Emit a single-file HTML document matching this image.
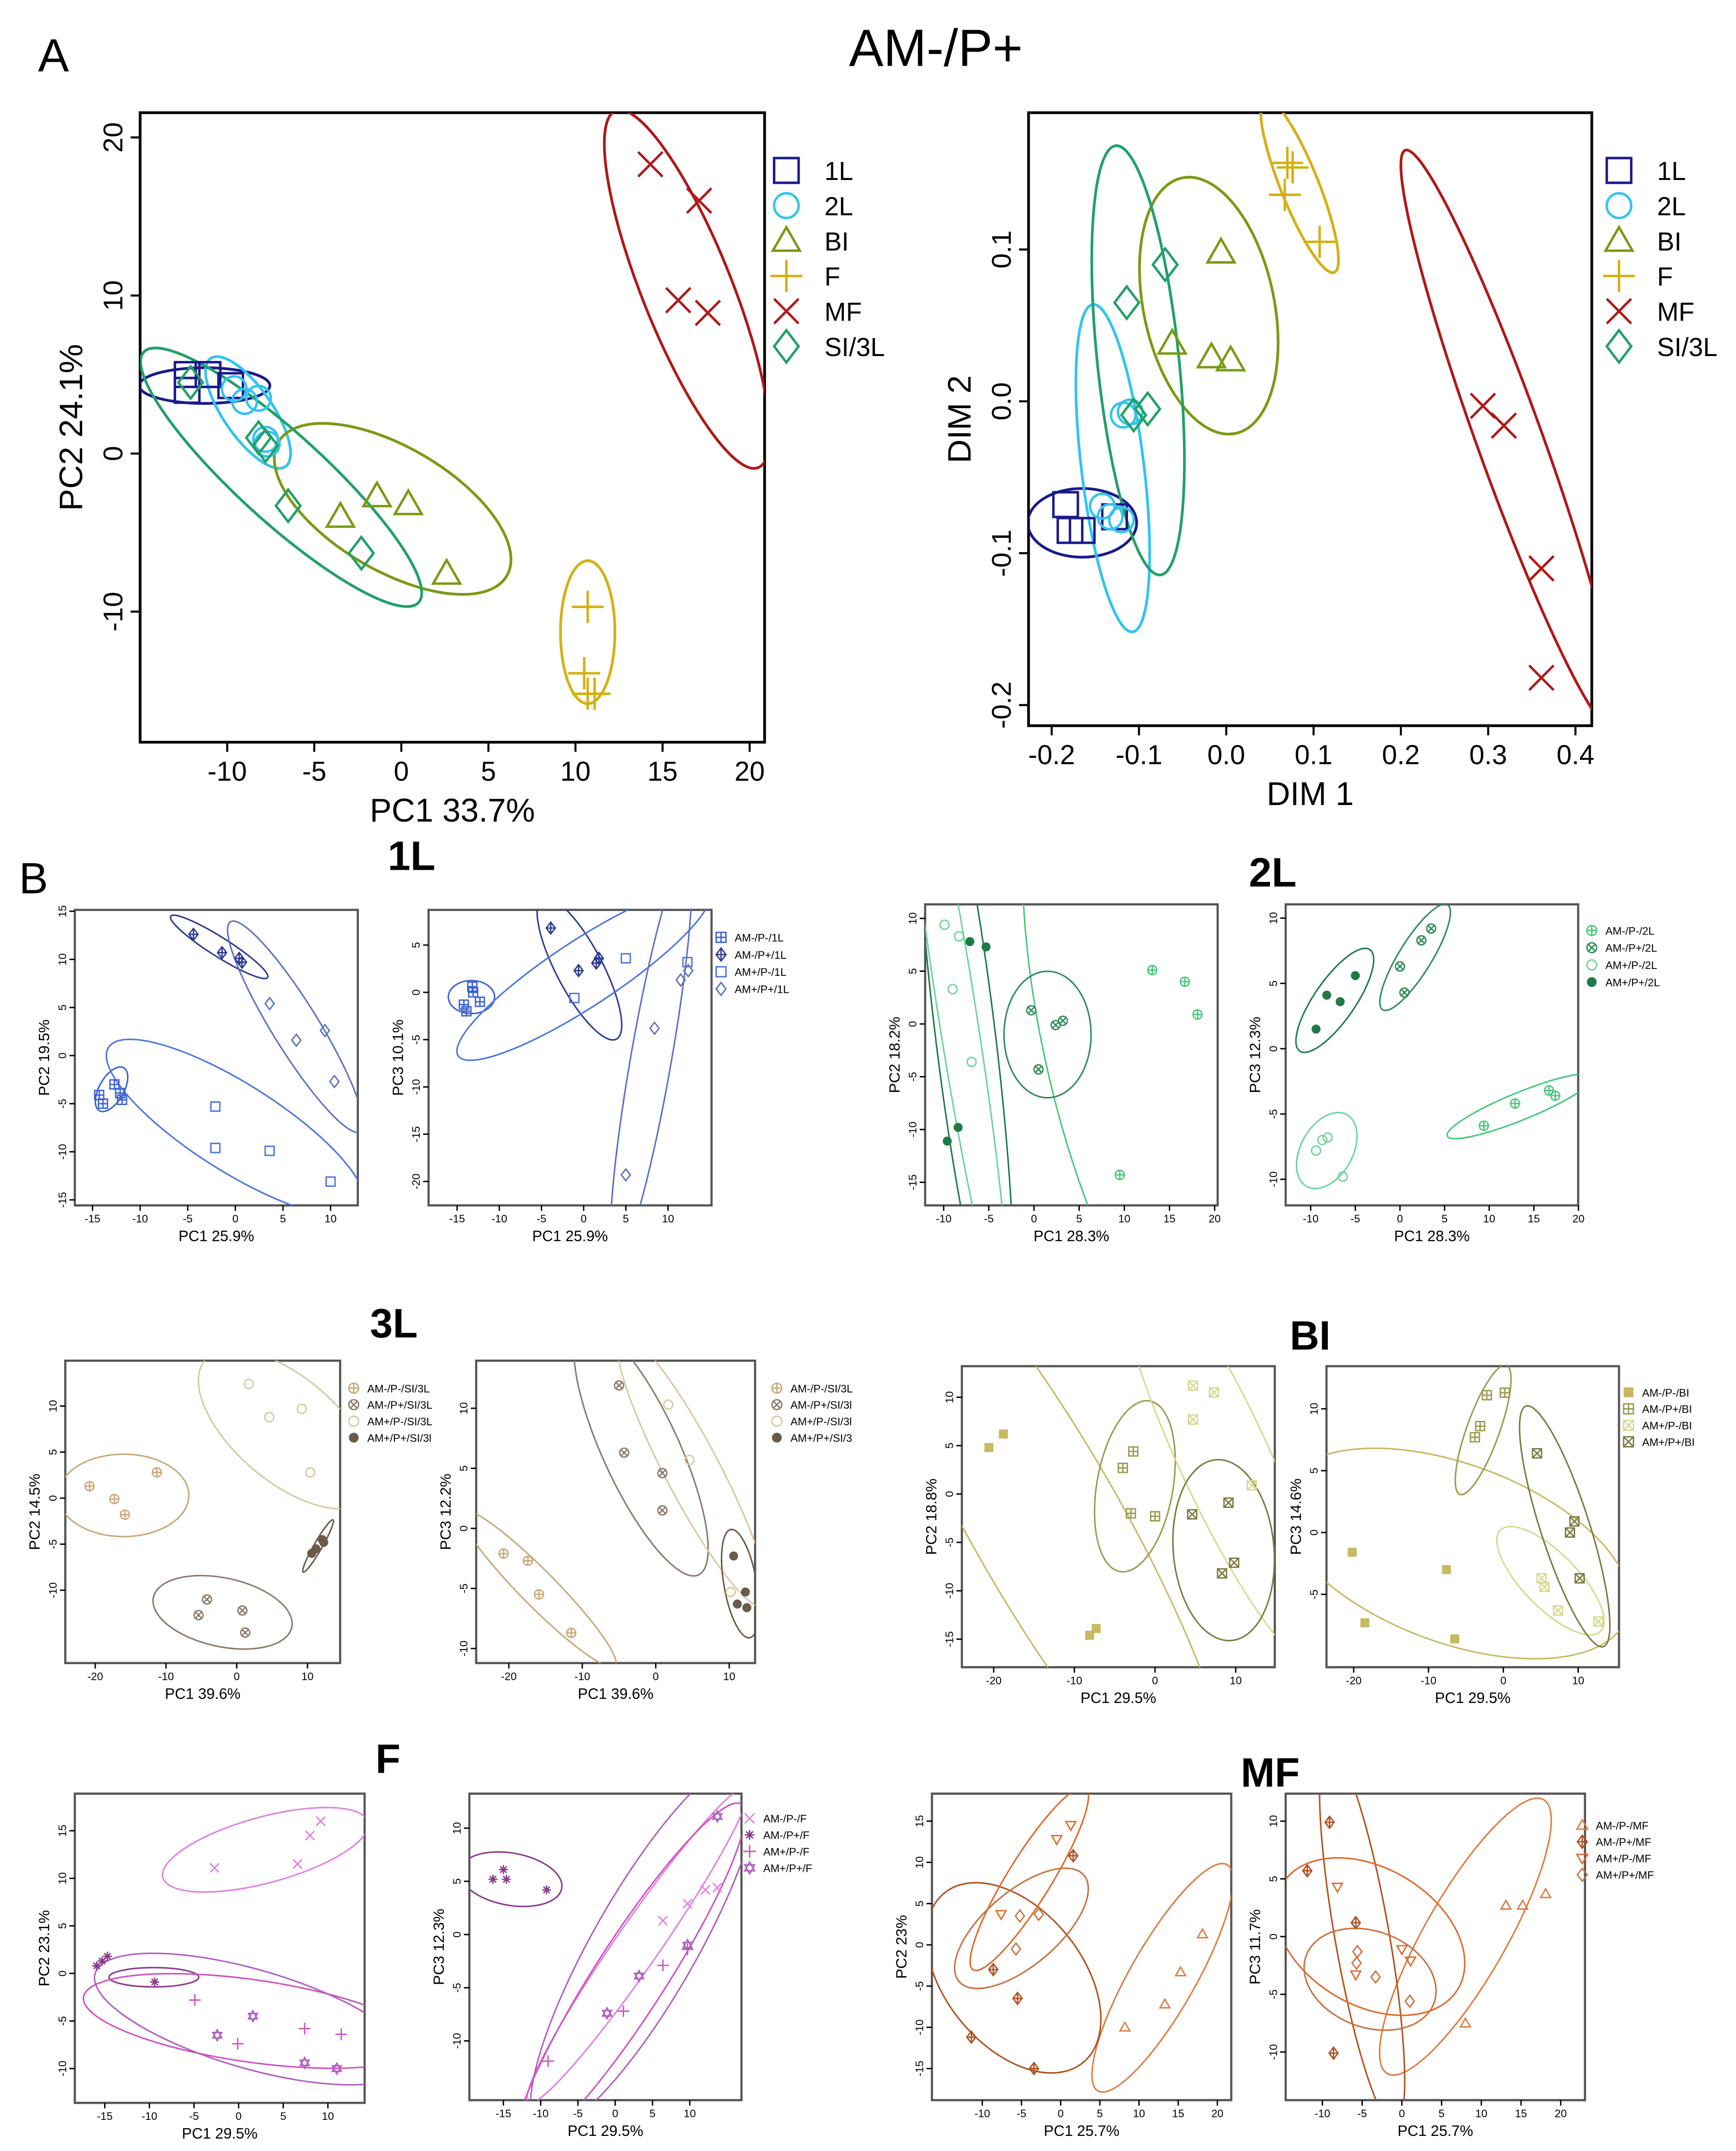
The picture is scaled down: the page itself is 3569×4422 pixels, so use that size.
<!DOCTYPE html>
<html><head><meta charset="utf-8"><style>
html,body{margin:0;padding:0;background:#fff;}
svg{display:block;}
text{font-family:"Liberation Sans",Arial,sans-serif;}
</style></head><body>
<svg id="fig" xmlns="http://www.w3.org/2000/svg" width="3569" height="4422" viewBox="0 0 1276 1565" preserveAspectRatio="none">
<rect width="1276" height="1565" fill="#fff"/>
<text x="28" y="52" font-size="34">A</text>
<text x="624" y="48" font-size="38">AM-/P+</text>
<text x="14" y="650" font-size="32">B</text>
<text x="285" y="633" font-size="30" font-weight="bold">1L</text>
<text x="918" y="645" font-size="30" font-weight="bold">2L</text>
<text x="272" y="973" font-size="30" font-weight="bold">3L</text>
<text x="948" y="982" font-size="30" font-weight="bold">BI</text>
<text x="276" y="1290" font-size="30" font-weight="bold">F</text>
<text x="912" y="1300" font-size="30" font-weight="bold">MF</text>
</svg>
<script>
// ===== DATA =====
const A1_tick_x=[-10,-5,0,5,10,15,20];
const A1_tick_y=[-10,0,10,20];
const A1_1L=[[-12.3,5],[-12.3,4],[-11.1,5],[-9.8,4.3]];
const A1_2L=[[-9.6,4.1],[-9,3.3],[-8.2,3.5],[-7.8,0.9],[-7.7,0.6]];
const A1_BI=[[-3.5,-4],[-1.4,-2.7],[0.4,-3.2],[2.6,-7.6]];
const A1_F=[[10.7,-9.7],[10.5,-13.9],[10.7,-15.2],[11.1,-15.2]];
const A1_MF=[[14.3,18.3],[17.1,16],[15.9,9.7],[17.6,8.9]];
const A1_SI=[[-12.1,4.5],[-8.2,1],[-7.8,0.5],[-6.5,-3.3],[-2.3,-6.3]];
const A2_tick_x=[-0.2,-0.1,0.0,0.1,0.2,0.3,0.4];
const A2_tick_y=[-0.2,-0.1,0.0,0.1];
const A2_1L=[[-0.184,-0.068],[-0.179,-0.085],[-0.165,-0.085],[-0.128,-0.076]];
const A2_2L=[[-0.142,-0.069],[-0.133,-0.076],[-0.118,-0.009],[-0.11,-0.007],[-0.12,-0.078]];
const A2_BI=[[-0.006,0.098],[-0.062,0.038],[-0.017,0.029],[0.005,0.027]];
const A2_F=[[0.07,0.157],[0.076,0.154],[0.067,0.136],[0.107,0.105]];
const A2_MF=[[0.294,-0.003],[0.318,-0.016],[0.361,-0.11],[0.361,-0.182]];
const A2_SI=[[-0.114,0.065],[-0.07,0.09],[-0.106,-0.009],[-0.09,-0.005]];
const L1a_s1=[[-14.3,-4.1],[-13.9,-5],[-12.7,-3],[-12.1,-3.9],[-11.9,-4.6]];
const L1a_s2=[[-4.4,12.6],[-1.4,10.7],[0.4,10.1],[0.7,9.7]];
const L1a_s3=[[-2.1,-5.3],[-2.1,-9.6],[3.6,-9.9],[10,-13.1]];
const L1a_s4=[[3.6,5.4],[6.4,1.6],[9.4,2.6],[10.4,-2.7]];
const L1b_s1=[[-14.2,-1.3],[-13.9,-2],[-13.1,0],[-12.3,-1],[-13.2,0.6]];
const L1b_s2=[[-3.9,6.8],[-0.6,2.3],[1.5,3.1],[1.8,3.6]];
const L1b_s3=[[-1.1,-0.6],[5,3.6],[12.3,3.2]];
const L1b_s4=[[5,-19.3],[8.4,-3.8],[11.5,1.3],[12.4,2.3]];
const L2a_s1=[[13.1,5.1],[16.7,4],[18.1,0.9],[9.5,-14.3]];
const L2a_s2=[[-0.3,1.3],[2.4,-0.1],[3.2,0.3],[0.5,-4.3]];
const L2a_s3=[[-9.9,9.4],[-8.3,8.3],[-9,3.3],[-6.9,-3.6]];
const L2a_s4=[[-7.1,7.8],[-5.3,7.3],[-9.6,-11.1],[-8.4,-9.8]];
const L2b_s1=[[9.4,-5.9],[12.9,-4.2],[16.7,-3.2],[17.4,-3.6]];
const L2b_s2=[[0,6.3],[0.5,4.3],[2.4,8.3],[3.5,9.2]];
const L2b_s3=[[-9.4,-7.8],[-8.7,-7],[-8.1,-6.8],[-6.4,-9.8]];
const L2b_s4=[[-9.4,1.5],[-8.2,4.1],[-6.7,3.6],[-5,5.6]];
const L3a_s1=[[-20.8,1.3],[-17.3,-0.1],[-15.8,-1.8],[-11.3,2.8]];
const L3a_s2=[[-5.4,-12.7],[-4.2,-11],[0.8,-12.2],[1.2,-14.6]];
const L3a_s3=[[1.7,12.4],[4.6,8.8],[9.2,9.7],[10.4,2.8]];
const L3a_s4=[[10.6,-6],[11.2,-5.5],[12.1,-4.5],[12.3,-4.8]];
const L3b_s1=[[-20.7,-2.1],[-17.4,-2.7],[-15.9,-5.5],[-11.5,-8.7]];
const L3b_s2=[[-5,11.9],[-4.3,6.3],[0.9,4.6],[0.9,1.5]];
const L3b_s3=[[1.7,10.3],[4.6,5.7],[10.2,-5.3]];
const L3b_s4=[[10.6,-2.3],[11.1,-6.3],[12.2,-5.3],[12.4,-6.6]];
const BIa_s1=[[-20.6,4.8],[-18.8,6.2],[-8.1,-14.6],[-7.3,-13.9]];
const BIa_s2=[[-4,2.7],[-2.7,4.4],[-3,-2],[0,-2.3]];
const BIa_s3=[[4.7,11.2],[4.7,7.7],[7.3,10.5],[12,0.9]];
const BIa_s4=[[4.6,-2.1],[9.1,-0.9],[9.8,-7.1],[8.3,-8.2]];
const BIb_s1=[[-20.2,-1.6],[-18.5,-7.3],[-7.6,-3],[-6.5,-8.6]];
const BIb_s2=[[-3.8,7.7],[-3.1,8.6],[-2.2,11.1],[0.2,11.3]];
const BIb_s3=[[5.1,-3.7],[5.5,-4.4],[7.3,-6.3],[12.7,-7.2]];
const BIb_s4=[[4.5,6.4],[8.9,0],[9.5,0.9],[10.2,-3.7]];
const Fa_s1=[[-2.7,11.1],[6.6,11.5],[8,14.5],[9.2,16]];
const Fa_s2=[[-15.9,0.8],[-15.3,1.3],[-14.7,1.8],[-9.4,-0.9]];
const Fa_s3=[[-4.9,-2.8],[-0.1,-7.4],[7.4,-5.8],[11.5,-6.4]];
const Fa_s4=[[-2.4,-6.5],[1.6,-4.5],[7.4,-9.4],[11,-10]];
const Fb_s1=[[6.4,1.3],[9.7,2.9],[12.1,4.2],[13.7,4.4]];
const Fb_s2=[[-16.4,5.2],[-15,6.1],[-14.6,5.2],[-9.2,4.2]];
const Fb_s3=[[-9,-11.9],[1.1,-7.2],[6.4,-2.9],[9.7,-1.4]];
const Fb_s4=[[-1.1,-7.4],[3.2,-3.9],[9.7,-1],[13.7,11.1]];
const MFa_s1=[[8.2,-10],[13.3,-7.2],[15.3,-3.3],[18.1,1.3]];
const MFa_s2=[[-11.4,-11.2],[-8.6,-3],[-5.5,-6.5],[-3.4,-15],[1.6,10.8]];
const MFa_s3=[[-7.6,3.7],[-0.5,12.8],[1.3,14.5]];
const MFa_s4=[[-5.2,3.5],[-5.7,-0.5],[-2.8,3.7]];
const MFb_s1=[[8,-7.5],[13.1,2.7],[15.2,2.7],[18.1,3.7]];
const MFb_s2=[[-11.9,5.7],[-9.1,9.9],[-5.8,1.2],[-8.6,-10.1]];
const MFb_s3=[[-8.1,4.3],[-5.8,-3.3],[0,-1.1],[1.1,-2.1]];
const MFb_s4=[[-5.7,-2.3],[-3.3,-3.5],[-5.6,-1.3],[1,-5.6]];

// ===== DRAWING =====
const NS="http://www.w3.org/2000/svg";
const svg=document.getElementById('fig');
function el(tag,attrs,parent){const e=document.createElementNS(NS,tag);for(const k in attrs)e.setAttribute(k,attrs[k]);(parent||svg).appendChild(e);return e;}
let clipN=0;
function marker(g,type,x,y,r,c,sw){
  const a={fill:'none',stroke:c,'stroke-width':sw};
  const P=(d)=>el('path',Object.assign({d:d},a),g);
  if(type==='sq'||type==='sqp'||type==='sqx'){P(`M${x-r} ${y-r}h${2*r}v${2*r}h${-2*r}z`);
    if(type==='sqp')P(`M${x-r} ${y}h${2*r}M${x} ${y-r}v${2*r}`);
    if(type==='sqx')P(`M${x-r} ${y-r}l${2*r} ${2*r}M${x+r} ${y-r}l${-2*r} ${2*r}`);}
  else if(type==='fsq'){el('rect',{x:x-r,y:y-r,width:2*r,height:2*r,fill:c},g);}
  else if(type==='ci'||type==='cip'||type==='cix'){el('circle',Object.assign({cx:x,cy:y,r:r},a),g);
    if(type==='cip')P(`M${x-r} ${y}h${2*r}M${x} ${y-r}v${2*r}`);
    if(type==='cix'){const q=r*0.7;P(`M${x-q} ${y-q}l${2*q} ${2*q}M${x+q} ${y-q}l${-2*q} ${2*q}`);}}
  else if(type==='fci'){el('circle',{cx:x,cy:y,r:r,fill:c},g);}
  else if(type==='tri'){P(`M${x} ${y-r*1.1}L${x+r*1.1} ${y+r*0.8}L${x-r*1.1} ${y+r*0.8}z`);}
  else if(type==='trd'){P(`M${x} ${y+r*1.1}L${x+r*1.1} ${y-r*0.8}L${x-r*1.1} ${y-r*0.8}z`);}
  else if(type==='pl'){P(`M${x-r*1.3} ${y}h${2.6*r}M${x} ${y-r*1.3}v${2.6*r}`);}
  else if(type==='x'){P(`M${x-r} ${y-r}l${2*r} ${2*r}M${x+r} ${y-r}l${-2*r} ${2*r}`);}
  else if(type==='di'||type==='dip'){P(`M${x} ${y-r*1.3}L${x+r} ${y}L${x} ${y+r*1.3}L${x-r} ${y}z`);
    if(type==='dip')P(`M${x-r} ${y}h${2*r}M${x} ${y-r*1.3}v${2.6*r}`);}
  else if(type==='ast'){P(`M${x-r} ${y}h${2*r}M${x} ${y-r}v${2*r}M${x-r*.7} ${y-r*.7}l${1.4*r} ${1.4*r}M${x+r*.7} ${y-r*.7}l${-1.4*r} ${1.4*r}`);}
  else if(type==='star'){P(`M${x} ${y-r*1.2}L${x+r} ${y+r*.6}L${x-r} ${y+r*.6}z M${x} ${y+r*1.2}L${x+r} ${y-r*.6}L${x-r} ${y-r*.6}z`);}
}
function fmt(v){return (Math.abs(v)<1e-9)?'0':String(v);}
function panel(c){
  const [x0,y0,x1,y1]=c.box;
  const sx=v=>c.xm[1]+(v-c.xm[0])*(c.xm[3]-c.xm[1])/(c.xm[2]-c.xm[0]);
  const sy=v=>c.ym[1]+(v-c.ym[0])*(c.ym[3]-c.ym[1])/(c.ym[2]-c.ym[0]);
  const g=el('g',{});
  
  
  const id='clip'+(clipN++);
  const cp=el('clipPath',{id:id},g);el('rect',{x:x0,y:y0,width:x1-x0,height:y1-y0},cp);
  const frame=el('rect',{x:x0,y:y0,width:x1-x0,height:y1-y0,fill:'none',stroke:c.big?'#000':'#555','stroke-width':c.big?2:1.6},g);
  
  
  const tl=c.big?7:4, fs=c.big?20:8;
  c.xt.forEach(v=>{const X=sx(v);el('line',{x1:X,y1:y1,x2:X,y2:y1+tl,stroke:'#000','stroke-width':c.big?1.5:1},g);
    const t=el('text',{x:X,y:y1+tl+fs*1.05,'font-size':fs,'text-anchor':'middle'},g);t.textContent=c.dec?v.toFixed(1):fmt(v);
    
    });
  c.yt.forEach(v=>{const Y=sy(v);el('line',{x1:x0,y1:Y,x2:x0-tl,y2:Y,stroke:'#000','stroke-width':c.big?1.5:1},g);
    const tx=x0-tl-fs*0.3;const t=el('text',{x:tx,y:Y,'font-size':fs,'text-anchor':'middle',transform:`rotate(-90 ${tx} ${Y})`},g);t.textContent=c.dec?v.toFixed(1):fmt(v);
    
    });
  const lf=c.big?24:11;
  const xl=el('text',{x:(x0+x1)/2,y:y1+tl+fs*1.1+lf*1.2,'font-size':lf,'text-anchor':'middle'},g);xl.textContent=c.xl;
  
  
  const yx=x0-tl-fs*1.3-lf*0.4, yy=(y0+y1)/2;
  const yl=el('text',{x:yx,y:yy,'font-size':lf,'text-anchor':'middle',transform:`rotate(-90 ${yx} ${yy})`},g);yl.textContent=c.yl;
  
  
  const inner=el('g',{'clip-path':`url(#${id})`},g);
  const sw=c.big?1.8:1;
  c.series.forEach(s=>{
    if(s.ell){const [cx,cy,rx,ry,rot]=s.ell;const e=el('ellipse',{cx:0,cy:0,rx:rx,ry:ry,fill:'none',stroke:s.ec||s.c,'stroke-width':c.big?2:1.1,transform:`translate(${sx(cx)} ${sy(cy)}) rotate(${rot})`},inner);
      
      }
  });
  c.series.forEach(s=>{
    s.pts.forEach(p=>{const mg=el('g',{},inner);
      
      
      marker(mg,s.m,sx(p[0]),sy(p[1]),c.big?9:3.3,s.c,sw);});
  });
  const L=c.leg;
  const lg=el('g',{},g);
  
  
  c.series.forEach((s,i)=>{const Y=L[1]+i*L[2];
    const eg=el('g',{},lg);
    
    
    marker(eg,s.m,L[0],Y,c.big?9:3.6,s.c,c.big?1.8:1);
    const t=el('text',{x:L[0]+(c.big?28:10),y:Y+(c.big?7:3),'font-size':c.big?19:8},eg);t.textContent=s.label;});
}
const cN='#1a1a8c',c2='#33c3ee',cBI='#7a9a14',cF='#d4b012',cMF='#b01818',cSI='#22a068';
panel({name:'pca-plot-a',big:true,box:[103,82,562,540],xm:[-10,167,20,551],ym:[0,330,-10,445],xt:A1_tick_x,yt:A1_tick_y,xl:'PC1 33.7%',yl:'PC2 24.1%',leg:[578,124,25.6],
 series:[{label:'1L',m:'sq',c:cN,pts:A1_1L,ell:[-11.3,4.3,48,13,0]},
 {label:'2L',m:'ci',c:c2,pts:A1_2L,ell:[-8.8,2.6,48,18,55]},
 {label:'BI',m:'tri',c:cBI,pts:A1_BI,ell:[-0.5,-3.5,97,45,30]},
 {label:'F',m:'pl',c:cF,pts:A1_F,ell:[10.7,-11.3,20,52,0]},
 {label:'MF',m:'x',c:cMF,pts:A1_MF,ell:[16.4,10.4,140,33,68]},
 {label:'SI/3L',m:'di',c:cSI,pts:A1_SI,ell:[-6.9,-1.5,136,32,42]}]});
panel({name:'nmds-plot',big:true,dec:true,box:[756,82,1170,528],xm:[-0.2,773,0.4,1158],ym:[0,292,0.1,181.5],xt:A2_tick_x,yt:A2_tick_y,xl:'DIM 1',yl:'DIM 2',leg:[1190,124,25.6],
 series:[{label:'1L',m:'sq',c:cN,pts:A2_1L,ell:[-0.165,-0.08,40,25,0]},
 {label:'2L',m:'ci',c:c2,pts:A2_2L,ell:[-0.13,-0.044,120,23,83]},
 {label:'BI',m:'tri',c:cBI,pts:A2_BI,ell:[-0.02,0.063,95,48,78]},
 {label:'F',m:'pl',c:cF,pts:A2_F,ell:[0.084,0.142,68,14,68]},
 {label:'MF',m:'x',c:cMF,pts:A2_MF,ell:[0.325,-0.026,225,24,70]},
 {label:'SI/3L',m:'di',c:cSI,pts:A2_SI,ell:[-0.101,0.027,157,30,84]}]});
function sp(o){panel(o);}
const b1='#3a62d0',b2='#2a3a90',b3='#4a72e0',b4='#5a70c0';
sp({name:'1l-pc1-pc2',box:[55,662,263,877],xm:[0,173,5,208],ym:[0,768,5,733],xt:[-15,-10,-5,0,5,10],yt:[15,10,5,0,-5,-10,-15],xl:'PC1 25.9%',yl:'PC2 19.5%',leg:[2000,0,0],
 series:[{label:'AM-/P-/1L',m:'sqp',c:b1,pts:L1a_s1,ell:[-13,-3.5,18,9,-60]},
 {label:'AM-/P+/1L',m:'dip',c:b2,pts:L1a_s2,ell:[-1.7,11.3,42,7,32]},
 {label:'AM+/P-/1L',m:'sq',c:b3,pts:L1a_s3,ell:[0,-7.5,110,32,32]},
 {label:'AM+/P+/1L',m:'di',c:b4,pts:L1a_s4,ell:[6.3,3,90,17,58]}]});
sp({name:'1l-pc1-pc3',box:[315,662,523,877],xm:[0,429,5,460],ym:[0,722,5,687.6],xt:[-15,-10,-5,0,5,10],yt:[5,0,-5,-10,-15,-20],xl:'PC1 25.9%',yl:'PC3 10.1%',leg:[530,682,12.5],
 series:[{label:'AM-/P-/1L',m:'sqp',c:b1,pts:L1b_s1,ell:[-13.3,-0.5,17,12,0]},
 {label:'AM-/P+/1L',m:'dip',c:b2,pts:L1b_s2,ell:[-0.5,2.5,58,17,62]},
 {label:'AM+/P-/1L',m:'sq',c:b3,pts:L1b_s3,ell:[0,2,110,24,-33]},
 {label:'AM+/P+/1L',m:'di',c:b4,pts:L1b_s4,ell:[8,-7,150,15,-80]}]});
const g1='#46c878',g2='#2e8b57',g3='#6cd49a',g4='#1e7a48';
sp({name:'2l-pc1-pc2',box:[680,658,895,877],xm:[0,760,5,793.2],ym:[0,745,5,706.6],xt:[-10,-5,0,5,10,15,20],yt:[10,5,0,-5,-10,-15],xl:'PC1 28.3%',yl:'PC2 18.2%',leg:[2000,0,0],
 series:[{label:'AM-/P-/2L',m:'cip',c:g1,pts:L2a_s1,ell:[14,-2,260,85,77]},
 {label:'AM+/P+/2L',m:'cix',c:g2,pts:L2a_s2,ell:[1.5,-1,32,46,0]},
 {label:'AM+/P-/2L',m:'ci',c:g3,pts:L2a_s3,ell:[-8.5,1,220,14,81]},
 {label:'AM+/P+/2L',m:'fci',c:g4,pts:L2a_s4,ell:[-7.6,-1,230,22,83]}]});
sp({name:'2l-pc1-pc3',box:[945,658,1160,877],xm:[0,1029,5,1061.8],ym:[0,763,5,715.5],xt:[-10,-5,0,5,10,15,20],yt:[10,5,0,-5,-10],xl:'PC1 28.3%',yl:'PC3 12.3%',leg:[1170,677,12.5],
 series:[{label:'AM-/P-/2L',m:'cip',c:g1,pts:L2b_s1,ell:[13.5,-4.4,58,10,-22]},
 {label:'AM-/P+/2L',m:'cix',c:g2,pts:L2b_s2,ell:[1.7,7,45,12,-58]},
 {label:'AM+/P-/2L',m:'ci',c:g3,pts:L2b_s3,ell:[-8.2,-7.8,30,19,-60]},
 {label:'AM+/P+/2L',m:'fci',c:g4,pts:L2b_s4,ell:[-7.3,3.7,45,15,-55]}]});
const t1='#c8a878',t2='#8a7a6a',t3='#d8c8a0',t4='#6a5a48';
sp({name:'3l-pc1-pc2',box:[48,990,250,1210],xm:[0,174,10,226],ym:[0,1090,5,1056.5],xt:[-20,-10,0,10],yt:[10,5,0,-5,-10],xl:'PC1 39.6%',yl:'PC2 14.5%',leg:[260,1010,12],
 series:[{label:'AM-/P-/SI/3L',m:'cip',c:t1,pts:L3a_s1,ell:[-16,0.3,48,30,0]},
 {label:'AM-/P+/SI/3L',m:'cix',c:t2,pts:L3a_s2,ell:[-2,-12.4,52,25,12]},
 {label:'AM+/P-/SI/3L',m:'ci',c:t3,pts:L3a_s3,ell:[7,7.5,78,38,40]},
 {label:'AM+/P+/SI/3l',m:'fci',c:t4,pts:L3a_s4,ell:[11.5,-5.2,22,3,-60]}]});
sp({name:'3l-pc1-pc3',box:[350,990,555,1210],xm:[0,482,10,536],ym:[0,1112,5,1068.3],xt:[-20,-10,0,10],yt:[10,5,0,-5,-10],xl:'PC1 39.6%',yl:'PC3 12.2%',leg:[571,1010,12],
 series:[{label:'AM-/P-/SI/3L',m:'cip',c:t1,pts:L3b_s1,ell:[-16,-5,80,13,45]},
 {label:'AM-/P+/SI/3l',m:'cix',c:t2,pts:L3b_s2,ell:[-2,6.5,100,28,65]},
 {label:'AM+/P-/SI/3l',m:'ci',c:t3,pts:L3b_s3,ell:[5,4.8,112,20,62]},
 {label:'AM+/P+/SI/3',m:'fci',c:t4,pts:L3b_s4,ell:[11.5,-4.6,40,12,80]}]});
const y1c='#c8b860',y2c='#9a9a50',y3c='#d8d890',y4c='#7a7a40';
sp({name:'bi-pc1-pc2',box:[707,994,937,1213],xm:[0,849,10,908.3],ym:[0,1087,5,1051.8],xt:[-20,-10,0,10],yt:[10,5,0,-5,-10,-15],xl:'PC1 29.5%',yl:'PC2 18.8%',leg:[2000,0,0],
 series:[{label:'AM-/P-/BI',m:'fsq',c:y1c,pts:BIa_s1,ell:[-13.5,-3,260,55,60]},
 {label:'AM-/P+/BI',m:'sqp',c:y2c,pts:BIa_s2,ell:[-2.5,0.8,28,63,10]},
 {label:'AM+/P-/BI',m:'sqx',c:y3c,pts:BIa_s3,ell:[8.5,3.8,170,33,65]},
 {label:'AM+/P+/BI',m:'sqx',c:y4c,pts:BIa_s4,ell:[8.5,-5.8,37,66,-5]}]});
sp({name:'bi-pc1-pc3',box:[975,994,1190,1213],xm:[0,1105,10,1160],ym:[0,1115,5,1070],xt:[-20,-10,0,10],yt:[10,5,0,-5],xl:'PC1 29.5%',yl:'PC3 14.6%',leg:[1197,1013,12],
 series:[{label:'AM-/P-/BI',m:'fsq',c:y1c,pts:BIb_s1,ell:[-6.5,-1.7,135,65,20]},
 {label:'AM-/P+/BI',m:'sqp',c:y2c,pts:BIb_s2,ell:[-2.7,8.3,50,12,-70]},
 {label:'AM+/P-/BI',m:'sqx',c:y3c,pts:BIb_s3,ell:[6.3,-3.9,52,20,45]},
 {label:'AM+/P+/BI',m:'sqx',c:y4c,pts:BIb_s4,ell:[8.2,0.5,92,18,72]}]});
const f1='#e080e0',f2='#8a3a8a',f3='#d050c0',f4='#b060c0';
sp({name:'f-pc1-pc2',box:[55,1305,268,1530],xm:[0,175.4,5,208.2],ym:[0,1435.8,5,1401.2],xt:[-15,-10,-5,0,5,10],yt:[15,10,5,0,-5,-10],xl:'PC1 29.5%',yl:'PC2 23.1%',leg:[2000,0,0],
 series:[{label:'AM-/P-/F',m:'x',c:f1,pts:Fa_s1,ell:[3,13,78,24,-15]},
 {label:'AM-/P+/F',m:'ast',c:f2,pts:Fa_s2,ell:[-9.5,-0.4,33,7,0]},
 {label:'AM+/P-/F',m:'pl',c:f3,pts:Fa_s3,ell:[1.5,-5,125,30,8]},
 {label:'AM+/P+/F',m:'star',c:f4,pts:Fa_s4,ell:[1.5,-4.8,120,36,16]}]});
sp({name:'f-pc1-pc3',box:[345,1305,545,1528],xm:[0,452.2,5,479.6],ym:[0,1407.5,5,1368.8],xt:[-15,-10,-5,0,5,10],yt:[10,5,0,-5,-10],xl:'PC1 29.5%',yl:'PC3 12.3%',leg:[551,1323,12],
 series:[{label:'AM-/P-/F',m:'x',c:f1,pts:Fb_s1,ell:[3,-1,140,16,-55]},
 {label:'AM-/P+/F',m:'ast',c:f2,pts:Fb_s2,ell:[-14,5.2,38,19,10]},
 {label:'AM+/P-/F',m:'pl',c:f3,pts:Fb_s3,ell:[2,-4,150,26,-57]},
 {label:'AM+/P+/F',m:'star',c:f4,pts:Fb_s4,ell:[4,-1,155,38,-60]}]});
const m1='#e07a40',m2='#b05020',m3='#e06828',m4='#c87040';
sp({name:'mf-pc1-pc2',box:[685,1305,905,1528],xm:[0,779.6,5,808.4],ym:[0,1415,5,1385],xt:[-10,-5,0,5,10,15,20],yt:[15,10,5,0,-5,-10,-15],xl:'PC1 25.7%',yl:'PC2 23%',leg:[2000,0,0],
 series:[{label:'AM-/P-/MF',m:'tri',c:m1,pts:MFa_s1,ell:[13,-4,95,24,-60]},
 {label:'AM-/P+/MF',m:'dip',c:m2,pts:MFa_s2,ell:[-6,-4,80,50,50]},
 {label:'AM+/P-/MF',m:'trd',c:m3,pts:MFa_s3,ell:[-4,8,78,16,-58]},
 {label:'AM+/P+/MF',m:'di',c:m4,pts:MFa_s4,ell:[-5,2,60,27,-40]}]});
sp({name:'mf-pc1-pc3',box:[945,1305,1165,1528],xm:[0,1030.4,5,1059.6],ym:[0,1409,5,1367],xt:[-10,-5,0,5,10,15,20],yt:[10,5,0,-5,-10],xl:'PC1 25.7%',yl:'PC3 11.7%',leg:[1163,1328,12],
 series:[{label:'AM-/P-/MF',m:'tri',c:m1,pts:MFb_s1,ell:[8,0,115,30,-60]},
 {label:'AM-/P+/MF',m:'dip',c:m2,pts:MFb_s2,ell:[-5,0,140,20,80]},
 {label:'AM+/P-/MF',m:'trd',c:m3,pts:MFb_s3,ell:[-4,0,75,50,30]},
 {label:'AM+/P+/MF',m:'di',c:m4,pts:MFb_s4,ell:[-4,-3.7,50,35,20]}]});
</script>
</body></html>
